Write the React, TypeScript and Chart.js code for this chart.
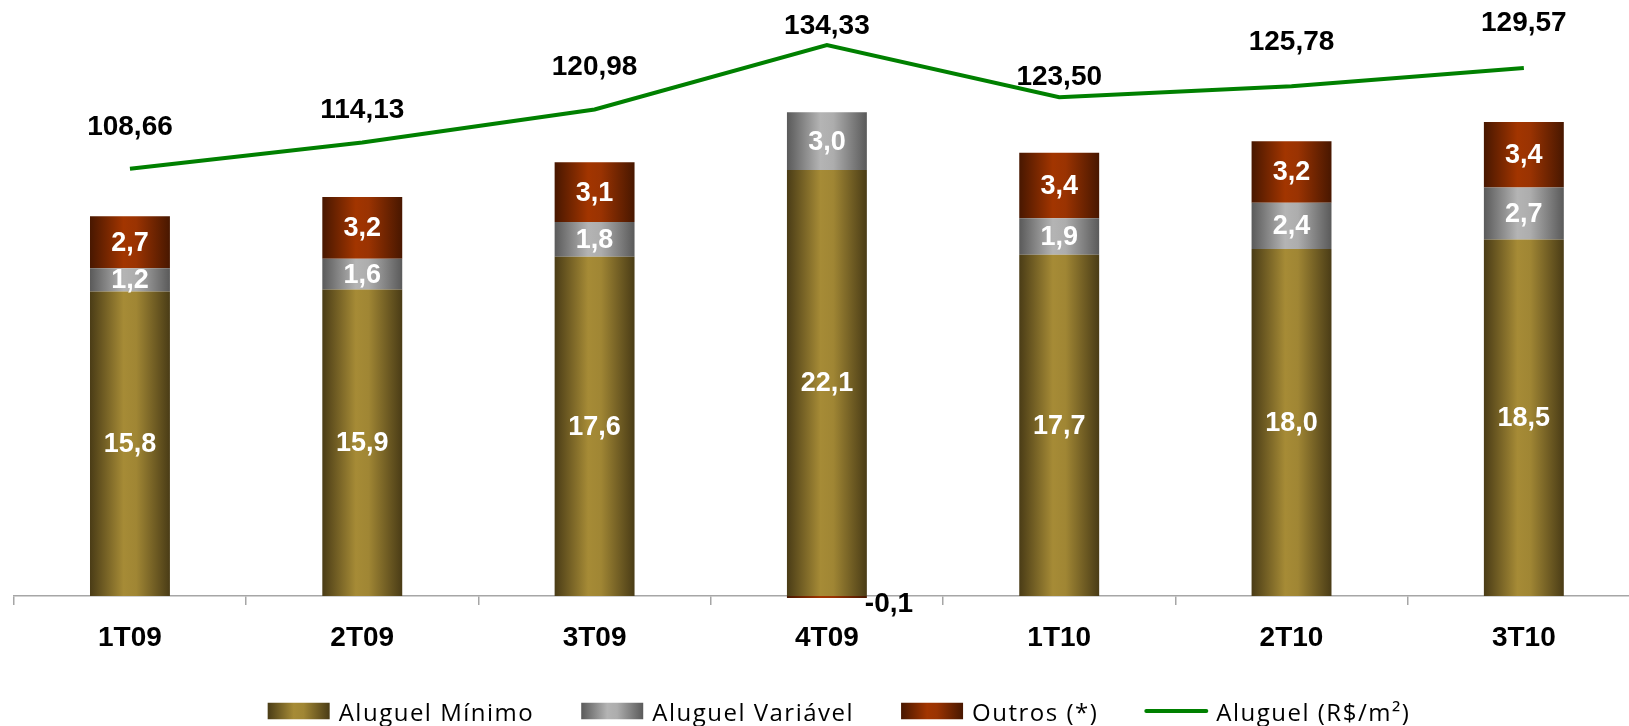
import React, { useEffect, useRef } from "react";
import { Chart, registerables } from "chart.js";

Chart.register(...registerables);

// ---------- data ----------
const categories = ["1T09", "2T09", "3T09", "4T09", "1T10", "2T10", "3T10"];
const aluguelMinimo = [15.8, 15.9, 17.6, 22.1, 17.7, 18.0, 18.5];
const aluguelVariavel = [1.2, 1.6, 1.8, 3.0, 1.9, 2.4, 2.7];
const outros = [2.7, 3.2, 3.1, -0.1, 3.4, 3.2, 3.4];
const aluguelM2 = [108.66, 114.13, 120.98, 134.33, 123.5, 125.78, 129.57];
const seriesNames = ["Aluguel Mínimo", "Aluguel Variável", "Outros (*)", "Aluguel (R$/m²)"];

// ---------- styles ----------
const MIN_STOPS = ["#4a3c16", "#a68b36", "#a08634", "#4a3c16"];
const VAR_STOPS = ["#5a5a5a", "#b4b4b4", "#adadad", "#5a5a5a"];
const OUT_STOPS = ["#481700", "#a23500", "#9a3302", "#481700"];
const LINE_COLOR = "#008000";
const CATEGORY_PCT = 0.344;
const lineLabelLift = [42, 32, 42, 19, 20, 44, 45];
const BOLD_FONT = "'Liberation Sans', Arial, sans-serif";
const LEGEND_FONT = "'Open Sans', 'Noto Sans', sans-serif";
const LEGEND_CENTER_X = 839;
const LEGEND_Y = 711;

const fmt = (v: number, d: number) => v.toFixed(d).replace(".", ",");

function makeGrad(ctx: CanvasRenderingContext2D, x0: number, x1: number, stops: string[]) {
  const g = ctx.createLinearGradient(x0, 0, x1, 0);
  g.addColorStop(0, stops[0]);
  g.addColorStop(0.42, stops[1]);
  g.addColorStop(0.58, stops[2]);
  g.addColorStop(1, stops[3]);
  return g;
}

function barGradient(c: any, stops: string[]) {
  const chart = c.chart;
  const x = chart.scales && chart.scales.x;
  if (!chart.chartArea || !x || c.dataIndex === undefined) return stops[1];
  const cx = x.getPixelForValue(c.dataIndex);
  const w = (x.width / categories.length) * CATEGORY_PCT;
  return makeGrad(chart.ctx, cx - w / 2, cx + w / 2, stops);
}

const labelPlugin = {
  id: "valueLabels",
  afterDatasetsDraw(chart: any) {
    const ctx: CanvasRenderingContext2D = chart.ctx;
    ctx.save();
    ctx.font = `bold 27px ${BOLD_FONT}`;
    [0, 1, 2].forEach((di) => {
      const meta = chart.getDatasetMeta(di);
      const data = chart.data.datasets[di].data as number[];
      meta.data.forEach((el: any, i: number) => {
        const v = data[i];
        if (v === null || v === undefined) return;
        if (v < 0) {
          ctx.fillStyle = "#000";
          ctx.textAlign = "left";
          ctx.textBaseline = "middle";
          ctx.font = `bold 28px ${BOLD_FONT}`;
          ctx.fillText(fmt(v, 1), el.x + el.width / 2 - 2, Math.max(el.y, el.base) + 6);
          ctx.font = `bold 27px ${BOLD_FONT}`;
        } else {
          ctx.fillStyle = "#fff";
          ctx.textAlign = "center";
          ctx.textBaseline = "middle";
          ctx.fillText(fmt(v, 1), el.x, (el.y + el.base) / 2 + 1);
        }
      });
    });
    const lm = chart.getDatasetMeta(3);
    ctx.fillStyle = "#000";
    ctx.textAlign = "center";
    ctx.textBaseline = "middle";
    ctx.font = `bold 28px ${BOLD_FONT}`;
    lm.data.forEach((pt: any, i: number) => {
      ctx.fillText(fmt(aluguelM2[i], 2), pt.x, pt.y - lineLabelLift[i]);
    });
    ctx.restore();
  },
};

const legendPlugin = {
  id: "customLegend",
  afterDraw(chart: any) {
    const ctx: any = chart.ctx;
    ctx.save();
    ctx.font = `24px ${LEGEND_FONT}`;
    ctx.letterSpacing = "1.5px";
    const boxW = 62;
    const boxH = 16.5;
    const gapText = 9;
    const gapItem = 47;
    const widths = seriesNames.map((n) => ctx.measureText(n).width);
    const total =
      widths.reduce((a: number, b: number) => a + b, 0) +
      seriesNames.length * (boxW + gapText) +
      (seriesNames.length - 1) * gapItem;
    let x = LEGEND_CENTER_X - total / 2;
    const stops = [MIN_STOPS, VAR_STOPS, OUT_STOPS];
    seriesNames.forEach((name, i) => {
      if (i < 3) {
        ctx.fillStyle = makeGrad(ctx, x, x + boxW, stops[i]);
        ctx.fillRect(x, LEGEND_Y - boxH / 2, boxW, boxH);
      } else {
        ctx.strokeStyle = LINE_COLOR;
        ctx.lineWidth = 4;
        ctx.lineCap = "round";
        ctx.beginPath();
        ctx.moveTo(x + 1, LEGEND_Y);
        ctx.lineTo(x + boxW - 1, LEGEND_Y);
        ctx.stroke();
      }
      x += boxW + gapText;
      ctx.fillStyle = "#000";
      ctx.textAlign = "left";
      ctx.textBaseline = "alphabetic";
      ctx.fillText(name, x, LEGEND_Y + 10);
      x += widths[i] + gapItem;
    });
    ctx.restore();
  },
};

export default function App() {
  const ref = useRef<HTMLCanvasElement | null>(null);

  useEffect(() => {
    if (!ref.current) return;
    const chart = new Chart(ref.current, {
      type: "bar",
      data: {
        labels: categories,
        datasets: [
          {
            type: "bar",
            label: seriesNames[0],
            data: aluguelMinimo,
            backgroundColor: (c: any) => barGradient(c, MIN_STOPS),
            borderWidth: 0,
            order: 1,
            yAxisID: "y",
            barPercentage: 1,
            categoryPercentage: CATEGORY_PCT,
          },
          {
            type: "bar",
            label: seriesNames[1],
            data: aluguelVariavel,
            backgroundColor: (c: any) => barGradient(c, VAR_STOPS),
            borderWidth: 0,
            order: 1,
            yAxisID: "y",
            barPercentage: 1,
            categoryPercentage: CATEGORY_PCT,
          },
          {
            type: "bar",
            label: seriesNames[2],
            data: outros,
            backgroundColor: (c: any) => barGradient(c, OUT_STOPS),
            borderWidth: 0,
            order: 1,
            yAxisID: "y",
            barPercentage: 1,
            categoryPercentage: CATEGORY_PCT,
            clip: false as any,
          },
          {
            type: "line",
            label: seriesNames[3],
            data: aluguelM2,
            borderColor: LINE_COLOR,
            backgroundColor: LINE_COLOR,
            borderWidth: 4,
            pointRadius: 0,
            tension: 0,
            fill: false,
            order: 0,
            yAxisID: "y1",
            clip: false as any,
          } as any,
        ],
      },
      options: {
        animation: false,
        responsive: false,
        devicePixelRatio: 1,
        layout: { padding: { left: 13.8, right: 20, top: 17.8, bottom: 50 } },
        plugins: {
          legend: { display: false },
          tooltip: { enabled: false },
        },
        scales: {
          x: {
            stacked: true,
            offset: true,
            afterFit: (s: any) => {
              s.height = 80;
            },
            border: { display: true, color: "#a6a6a6", width: 1.5 },
            grid: {
              offset: true,
              drawOnChartArea: false,
              drawTicks: true,
              tickLength: 9,
              color: "#a6a6a6",
              lineWidth: 1.5,
            },
            ticks: {
              color: "#000",
              padding: 16,
              font: { family: BOLD_FONT, size: 28, weight: "bold" },
              maxRotation: 0,
              autoSkip: false,
            },
          },
          y: {
            stacked: true,
            display: false,
            min: 0,
            max: 30,
          },
          y1: {
            display: false,
            min: 20,
            max: 140,
          },
        },
      },
      plugins: [labelPlugin, legendPlugin],
    });
    return () => chart.destroy();
  }, []);

  return (
    <div
      style={{
        position: "fixed",
        left: 0,
        top: 0,
        width: "100vw",
        height: "100vh",
        overflow: "hidden",
        background: "#fff",
      }}
    >
      <canvas ref={ref} width={1660} height={726} style={{ display: "block", width: 1660, height: 726 }} />
    </div>
  );
}
